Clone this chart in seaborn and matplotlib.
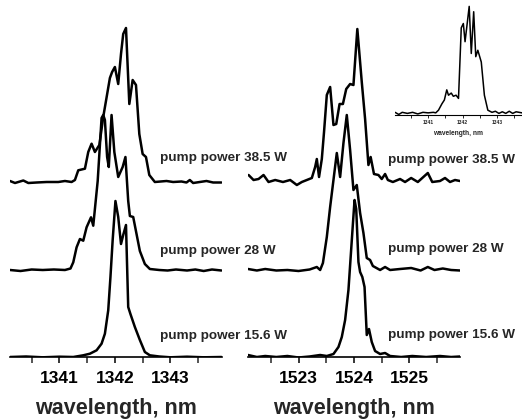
import numpy as np
import pandas as pd
import matplotlib
matplotlib.use("Agg")
import matplotlib.pyplot as plt
import seaborn as sns
from matplotlib.ticker import MultipleLocator

# ---------------- data (intensity in a.u.) ----------------
# Nd line near 1342 nm
l1342_385_wl = [1340.11, 1340.20, 1340.35, 1340.44, 1340.59, 1340.77, 1340.98, 1341.10, 1341.22, 1341.28,
                1341.34, 1341.46, 1341.52, 1341.58, 1341.64, 1341.72, 1341.79, 1341.91, 1341.95, 1342.00,
                1342.06, 1342.11, 1342.15, 1342.20, 1342.26, 1342.32, 1342.38, 1342.44, 1342.50, 1342.56,
                1342.62, 1342.72, 1342.93, 1343.05, 1343.20, 1343.29, 1343.35, 1343.41, 1343.53, 1343.65,
                1343.77, 1343.92]
l1342_385_I = [1, -1, 1.5, -1, -0.5, 0, 0, 1, 0, 2,
               11.7, 13.3, 30, 38.3, 30, 37, 65, 104, 110, 115,
               98, 128, 148, 154, 78, 102, 97, 48, 28, 25,
               7, 0, 1, 0, 0.5, -0.5, 2, -1, 0, 1,
               -0.5, -0.5]

l1342_28_wl = [1340.11, 1340.30, 1340.50, 1340.70, 1340.90, 1341.10, 1341.20, 1341.25, 1341.31, 1341.37,
               1341.43, 1341.49, 1341.57, 1341.61, 1341.69, 1341.76, 1341.79, 1341.82, 1341.86, 1341.89,
               1341.94, 1341.99, 1342.06, 1342.14, 1342.19, 1342.24, 1342.27, 1342.33, 1342.39, 1342.45,
               1342.54, 1342.63, 1342.80, 1342.95, 1343.10, 1343.30, 1343.45, 1343.60, 1343.75, 1343.92]
l1342_28_I = [0, -1, 0.5, 0, 0.5, 0, 1.5, 7.7, 22.7, 31,
              29.3, 42.7, 52.7, 44.3, 89, 152, 155, 150, 113, 103,
              155, 118, 93, 103, 113, 69, 54, 53, 36, 19,
              6, 1, 0, -0.5, 0.5, -0.5, 0.5, -1, 0.5, -0.5]

l1342_156_wl = [1340.11, 1340.40, 1340.70, 1341.00, 1341.25, 1341.43, 1341.55, 1341.67, 1341.76, 1341.82,
                1341.88, 1341.92, 1341.96, 1342.01, 1342.06, 1342.11, 1342.15, 1342.20, 1342.24, 1342.28,
                1342.36, 1342.45, 1342.54, 1342.63, 1342.80, 1343.00, 1343.30, 1343.60, 1343.92]
l1342_156_I = [0, 0.5, -0.3, 0.3, 0, 1.7, 3.3, 6.7, 13.3, 23.3,
               46.7, 80, 117, 156, 140, 113, 122, 132, 50, 43,
               30, 17, 5, 1.7, 0.5, -0.3, 0.3, -0.3, 0]

# Line near 1524 nm
l1524_385_wl = [1522.10, 1522.19, 1522.28, 1522.37, 1522.46, 1522.58, 1522.72, 1522.85, 1522.97, 1523.06,
                1523.15, 1523.24, 1523.30, 1523.33, 1523.37, 1523.42, 1523.46, 1523.51, 1523.57, 1523.63,
                1523.68, 1523.74, 1523.80, 1523.86, 1523.93, 1523.99, 1524.06, 1524.14, 1524.20, 1524.26,
                1524.30, 1524.36, 1524.44, 1524.50, 1524.56, 1524.61, 1524.70, 1524.83, 1524.92, 1525.03,
                1525.15, 1525.33, 1525.41, 1525.55, 1525.64, 1525.73, 1525.82, 1525.91]
l1524_385_I = [7, 2, 3, 7, 0, 2, 0, 2, -3, 0,
               2, 4, 15, 23, 5, 23, 50, 87, 95, 57,
               58, 78, 78, 93, 98, 97, 153, 100, 63, 17,
               25, 8, 7, 3, 8, 2, 0, 3, 0, 4,
               0, 9, 0, 1, 4, 0, 2, 1]

l1524_28_wl = [1522.09, 1522.25, 1522.40, 1522.60, 1522.80, 1523.00, 1523.20, 1523.33, 1523.39, 1523.44,
               1523.51, 1523.57, 1523.63, 1523.69, 1523.75, 1523.81, 1523.87, 1523.93, 1523.99, 1524.05,
               1524.11, 1524.17, 1524.23, 1524.29, 1524.34, 1524.47, 1524.56, 1524.65, 1524.83, 1525.03,
               1525.20, 1525.33, 1525.45, 1525.60, 1525.75, 1525.91]
l1524_28_I = [1, -0.5, 1, -0.5, 0, -1, 0.5, 3, 0, 7,
              33, 63, 90, 117, 93, 127, 155, 120, 80, 85,
              57, 37, 12, 10, 4, 0, 3, 0, 1, 2,
              -0.5, 3, 0, 1.5, 0, -0.5]

l1524_156_wl = [1522.09, 1522.25, 1522.40, 1522.60, 1522.80, 1523.00, 1523.20, 1523.39, 1523.51, 1523.63,
                1523.72, 1523.78, 1523.84, 1523.90, 1523.94, 1523.98, 1524.01, 1524.04, 1524.08, 1524.11,
                1524.15, 1524.19, 1524.23, 1524.27, 1524.32, 1524.38, 1524.47, 1524.56, 1524.65, 1524.85,
                1525.05, 1525.30, 1525.55, 1525.75, 1525.91]
l1524_156_I = [2, 0, 1, 0, 1, -0.5, 0.5, 2, 1, 3,
               10, 20, 37, 67, 100, 133, 157, 148, 95, 85,
               80, 70, 22, 28, 15, 6, 3, 4, 1, 0,
               1, 0, 1, 0, 0.5]

# Inset: 1342 nm line, normalized
inset_wl = [1340.04, 1340.15, 1340.25, 1340.40, 1340.55, 1340.70, 1340.85, 1341.00, 1341.15, 1341.22,
            1341.30, 1341.40, 1341.47, 1341.54, 1341.59, 1341.67, 1341.73, 1341.81, 1341.88, 1341.96,
            1342.02, 1342.07, 1342.19, 1342.25, 1342.32, 1342.38, 1342.44, 1342.54, 1342.63, 1342.73,
            1342.85, 1342.95, 1343.05, 1343.15, 1343.25, 1343.35, 1343.45, 1343.55, 1343.72]
inset_I = [0.01, -0.01, 0.01, 0.0, 0.01, -0.005, 0.01, 0.005, 0.01, 0.005,
           0.03, 0.09, 0.125, 0.22, 0.17, 0.19, 0.16, 0.17, 0.14, 0.80,
           0.84, 0.67, 1.0, 0.56, 0.95, 0.53, 0.59, 0.48, 0.17, 0.03,
           0.01, 0.02, 0.0, 0.015, 0.0, 0.02, 0.0, 0.015, 0.005]

labels = ["pump power 15.6 W", "pump power 28 W", "pump power 38.5 W"]
major_ticks_left = [1341, 1342, 1343]
major_ticks_right = [1523, 1524, 1525]

# ---------------- figure ----------------
sns.set_style("white")
plt.rcParams['font.family'] = ['Liberation Sans', 'DejaVu Sans']

W, H = 522, 420
fig = plt.figure(figsize=(W / 100, H / 100), dpi=100)

def px_axes(x0, x1, ytop, ybot):
    return fig.add_axes([x0 / W, (H - ybot) / H, (x1 - x0) / W, (ybot - ytop) / H])

offsets = [0, 87, 175]
LW = 1.8

def panel(ax, series, xlim, ticks, label_x, label_y):
    for (wl, I), off in zip(series, offsets):
        sns.lineplot(x=np.array(wl), y=off + np.array(I), ax=ax, color='black',
                     lw=LW, estimator=None, sort=False)
    ax.set_xlim(*xlim)
    ax.set_ylim(0, 347)
    ax.patch.set_visible(False)
    for s in ['top', 'right', 'left']:
        ax.spines[s].set_visible(False)
    ax.spines['bottom'].set_linewidth(1.2)
    ax.spines['bottom'].set_color('black')
    ax.set_yticks([])
    ax.set_xticks(ticks)
    ax.xaxis.set_minor_locator(MultipleLocator(0.5))
    ax.tick_params(axis='x', which='major', direction='out', length=4, width=1.1,
                   labelsize=12.5, pad=6, bottom=True, colors='black')
    ax.tick_params(axis='x', which='minor', direction='out', length=4, width=1.1, bottom=True)
    for t in ax.get_xticklabels():
        t.set_fontweight('bold')
    ax.set_xlabel('wavelength, nm', fontsize=15.5, fontweight='bold', labelpad=8.5)
    ax.set_ylabel('')
    for lab, ly in zip(labels, label_y):
        ax.text(label_x, ly, lab, fontsize=9.7, fontweight='bold', ha='left', va='center',
                clip_on=False)

axL = px_axes(10, 222, 10, 357)
panel(axL, [(l1342_156_wl, l1342_156_I), (l1342_28_wl, l1342_28_I), (l1342_385_wl, l1342_385_I)],
      (1340.11, 1343.93), major_ticks_left, 1342.81, [20.5, 106, 199])

axR = px_axes(248, 460, 10, 357)
panel(axR, [(l1524_156_wl, l1524_156_I), (l1524_28_wl, l1524_28_I), (l1524_385_wl, l1524_385_I)],
      (1522.09, 1525.91), major_ticks_right, 1524.61, [22, 108, 197])

# inset
axI = px_axes(395, 522, 5, 115)
sns.lineplot(x=np.array(inset_wl), y=0.015 + np.array(inset_I), ax=axI, color='black',
             lw=1.1, estimator=None, sort=False)
axI.set_xlim(1340.04, 1343.72)
axI.set_ylim(0, 1.028)
axI.patch.set_visible(False)
for s in ['top', 'right', 'left']:
    axI.spines[s].set_visible(False)
axI.spines['bottom'].set_linewidth(0.8)
axI.spines['bottom'].set_color('black')
axI.set_yticks([])
axI.set_xticks(major_ticks_left)
axI.xaxis.set_minor_locator(MultipleLocator(0.5))
axI.tick_params(axis='x', which='both', direction='out', length=2, width=0.7,
                labelsize=3.6, pad=1.5, bottom=True)
for t in axI.get_xticklabels():
    t.set_fontweight('bold')
axI.set_xlabel('wavelength, nm', fontsize=4.8, fontweight='bold', labelpad=4)
axI.set_ylabel('')

fig.savefig('out.png', dpi=100)
